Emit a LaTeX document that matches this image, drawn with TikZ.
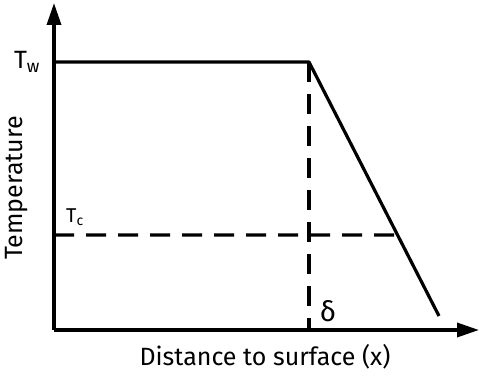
\documentclass[tikz,border=0pt]{standalone}
\usepackage{fontspec}
\setmainfont{Fira Sans}
\usetikzlibrary{arrows.meta,calc}

\begin{document}
\begin{tikzpicture}[x=1pt,y=1pt,>={Triangle[length=22pt,width=14pt]}]
\tikzset{
  axis/.style={->,line width=3.4pt},
  curve/.style={line width=3.2pt,line join=round},
  guide/.style={line width=3.2pt,dash pattern=on 20pt off 12pt},
  lab/.style={font=\fontsize{25}{28}\selectfont,inner sep=1pt}
}
\useasboundingbox (0,0) rectangle (479,378);
\coordinate (o) at (54,48);
\coordinate (ytop) at (54,375);
\coordinate (xend) at (479,48);
\coordinate (tw0) at (54,316);
\coordinate (knee) at (309,316);
\coordinate (foot) at (439,62);
\coordinate (tc0) at (54,143);
\coordinate (tc1) at ($(knee)!0.681!(foot)$);
\coordinate (dfoot) at (309,48);
\draw[guide] (tc0) -- (tc1);
\draw[guide] (knee) -- (dfoot);
\draw[curve] (tw0) -- (knee) -- (foot);
\draw[axis] (o) -- (ytop);
\draw[axis] (o) -- (xend);
\node[lab] (tw) at (27,316) {T\textsubscript{w}};
\node[lab,font=\fontsize{20}{22}\selectfont] (tc) at (75,161) {T\textsubscript{c}};
\node[lab,rotate=90] (ylab) at (17,190) {Temperature};
\node[lab] (xlab) at (265,21) {Distance to surface (x)};
\node[lab,font=\fontsize{28}{30}\selectfont] (delta) at (328,67) {δ};
\end{tikzpicture}
\end{document}
